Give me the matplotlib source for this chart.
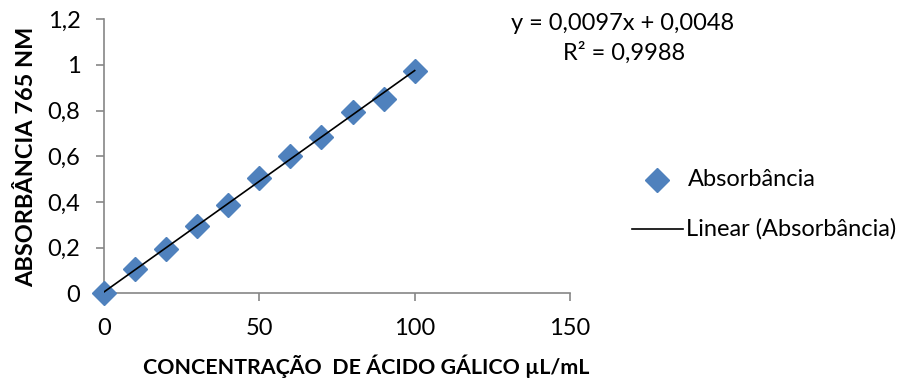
import numpy as np
import matplotlib
matplotlib.use("Agg")
import matplotlib.pyplot as plt
from matplotlib.lines import Line2D

conc = [0, 10, 20, 30, 40, 50, 60, 70, 80, 90, 100]
absorb = [0.0, 0.105, 0.193, 0.295, 0.388, 0.507, 0.601, 0.686, 0.796, 0.853, 0.974]
xticks = [0, 50, 100, 150]
yticks = [0, 0.2, 0.4, 0.6, 0.8, 1.0, 1.2]
ytick_labels = ["0", "0,2", "0,4", "0,6", "0,8", "1", "1,2"]
eq_text = "y = 0,0097x + 0,0048"
r2_text = "R² = 0,9988"
series_name = "Absorbância"
trend_name = "Linear (Absorbância)"
xlabel = "CONCENTRAÇÃO  DE ÁCIDO GÁLICO µL/mL"
ylabel = "ABSORBÂNCIA 765 NM"

plt.rcParams['font.family'] = ['Lato', 'DejaVu Sans']
W, H = 917, 385
fig = plt.figure(figsize=(W/100, H/100), dpi=100)
ax = fig.add_axes([104/W, 1-293.3/H, (570-104)/W, (293.3-19.3)/H])

blue = '#4F81BD'
gray = '#868686'
ax.plot(conc, absorb, linestyle='none', marker='D', markersize=12.5,
        color=blue, clip_on=False, zorder=3)
k, b = np.polyfit(conc, absorb, 1)
xs = np.array([conc[0], conc[-1]])
ax.plot(xs, k*xs + b, color='black', lw=1.2, zorder=4)

ax.set_xlim(0, 150)
ax.set_ylim(0, 1.2)
ax.set_xticks(xticks)
ax.set_yticks(yticks)
ax.set_yticklabels(ytick_labels)
for s in ['top', 'right']:
    ax.spines[s].set_visible(False)
for s in ['left', 'bottom']:
    ax.spines[s].set_color(gray)
    ax.spines[s].set_linewidth(1.2)
ax.tick_params(axis='both', colors=gray, labelcolor='black', labelsize=17,
               length=6, width=1.2, direction='out')
ax.tick_params(axis='x', pad=12)
ax.tick_params(axis='y', pad=11)

fig.text(27/W, 1-157/H, ylabel, rotation=90, ha='center', va='center',
         fontsize=16.9, fontweight='bold')
fig.text(366/W, 1-366/H, xlabel, ha='center', va='center',
         fontsize=15.4, fontweight='bold')

fig.text(623/W, 1-23/H, eq_text, ha='center', va='center', fontsize=17)
fig.text(624/W, 1-53/H, r2_text, ha='center', va='center', fontsize=17)

fig.add_artist(Line2D([657/W], [1-180/H], marker='D', markersize=12,
                      color=blue, linestyle='none', transform=fig.transFigure))
fig.text(688/W, 1-180/H, series_name, ha='left', va='center', fontsize=17)
fig.add_artist(Line2D([632/W, 683/W], [1-229/H, 1-229/H], color='black', lw=1.2,
                      transform=fig.transFigure))
fig.text(686/W, 1-229/H, trend_name, ha='left', va='center', fontsize=17)

fig.savefig('out.png', dpi=100)
